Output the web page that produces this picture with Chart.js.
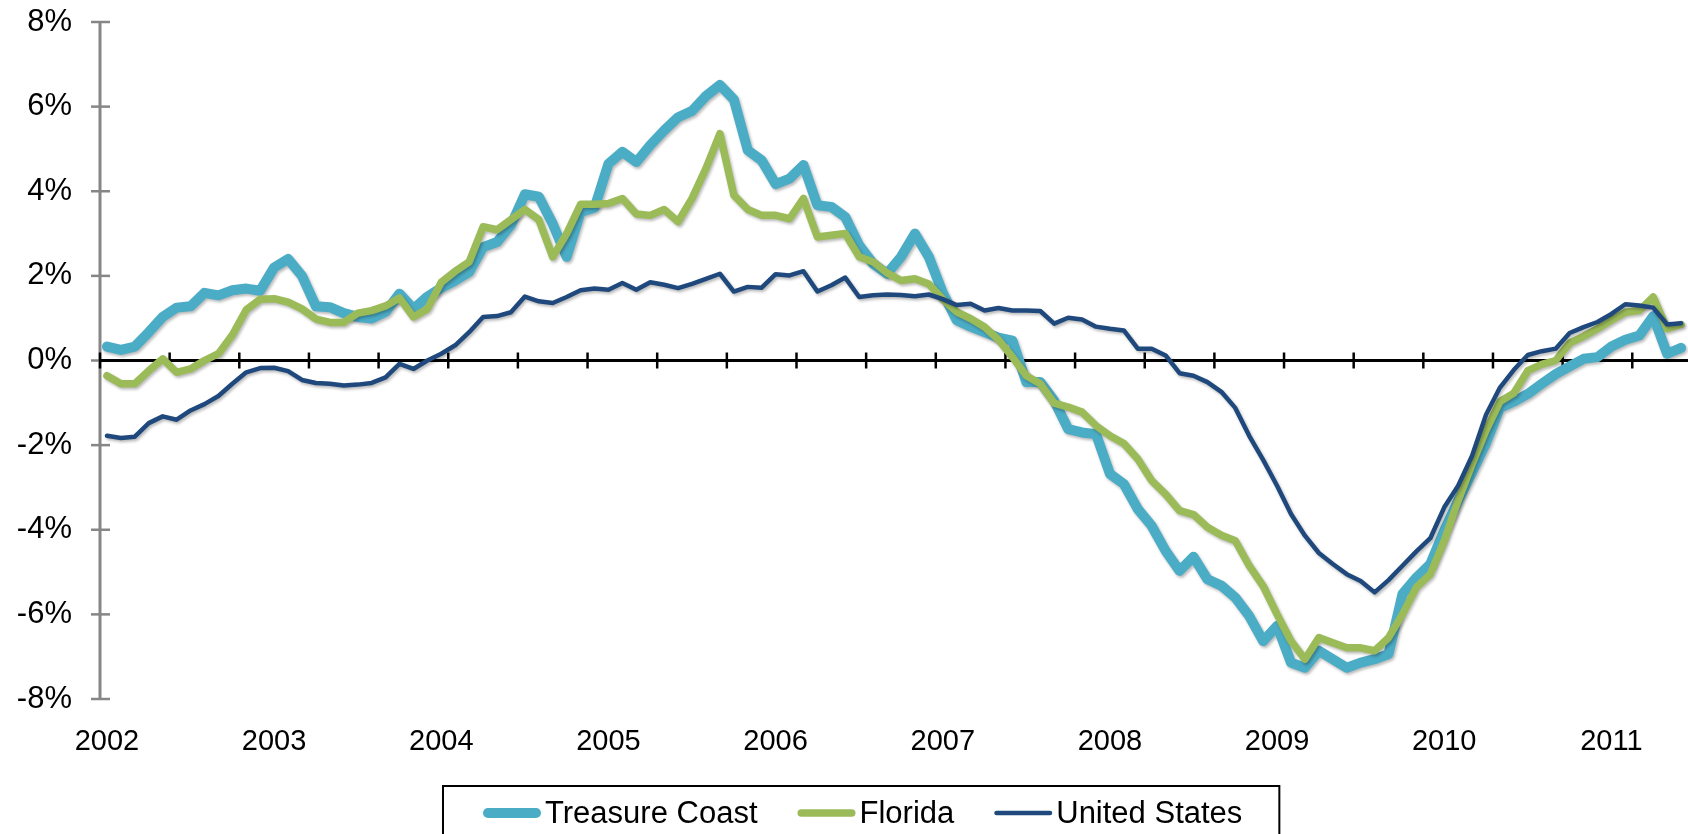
<!DOCTYPE html>
<html>
<head>
<meta charset="utf-8">
<script src="https://cdn.jsdelivr.net/npm/chart.js@4.4.1/dist/chart.umd.min.js"></script>
<style>
  html, body { margin: 0; padding: 0; background: #fff; }
  #wrap { width: 1688px; height: 834px; }
</style>
</head>
<body>
<div id="wrap"><canvas id="priceChart" width="1688" height="834"></canvas></div>
<script>
// year-over-year change, monthly, Jan 2002 - Jun 2011 (percent)
var treasureCoast = [
  0.33, 0.25, 0.33, 0.67, 1.03, 1.25, 1.28, 1.60, 1.54, 1.66, 1.70, 1.65,
  2.20, 2.40, 2.00, 1.28, 1.26, 1.12, 1.03, 0.99, 1.15, 1.58, 1.22, 1.51,
  1.72, 1.89, 2.09, 2.68, 2.80, 3.20, 3.93, 3.87, 3.23, 2.45, 3.51, 3.61,
  4.65, 4.93, 4.69, 5.09, 5.44, 5.75, 5.90, 6.25, 6.51, 6.17, 4.97, 4.73,
  4.17, 4.30, 4.62, 3.67, 3.63, 3.39, 2.72, 2.29, 2.05, 2.45, 3.00, 2.45,
  1.60, 0.95, 0.80, 0.67, 0.54, 0.47, -0.51, -0.51, -0.95, -1.62, -1.70, -1.74,
  -2.68, -2.92, -3.51, -3.91, -4.50, -4.97, -4.64, -5.17, -5.32, -5.60, -6.04, -6.63,
  -6.27, -7.14, -7.26, -6.86, -7.06, -7.26, -7.14, -7.06, -6.94, -5.52, -5.13, -4.81,
  -4.02, -3.31, -2.64, -1.95, -1.12, -0.97, -0.79, -0.55, -0.32, -0.14, 0.04, 0.08,
  0.33, 0.49, 0.59, 1.05, 0.16, 0.30
];
var florida = [
  -0.36, -0.55, -0.55, -0.24, 0.04, -0.28, -0.20, 0.00, 0.16, 0.60, 1.20, 1.45,
  1.46, 1.38, 1.22, 0.98, 0.90, 0.90, 1.12, 1.18, 1.29, 1.48, 1.03, 1.22,
  1.85, 2.11, 2.33, 3.16, 3.09, 3.33, 3.57, 3.33, 2.45, 3.00, 3.69, 3.69,
  3.71, 3.83, 3.46, 3.43, 3.57, 3.28, 3.83, 4.54, 5.36, 3.91, 3.57, 3.43,
  3.43, 3.35, 3.83, 2.92, 2.96, 3.00, 2.45, 2.33, 2.07, 1.89, 1.93, 1.81,
  1.45, 1.15, 0.99, 0.79, 0.49, 0.08, -0.36, -0.55, -1.01, -1.10, -1.22, -1.54,
  -1.78, -1.96, -2.33, -2.84, -3.16, -3.55, -3.64, -3.94, -4.13, -4.26, -4.85, -5.33,
  -6.00, -6.63, -7.06, -6.55, -6.67, -6.79, -6.79, -6.86, -6.55, -6.00, -5.36, -5.05,
  -4.26, -3.31, -2.45, -1.65, -0.97, -0.77, -0.24, -0.09, 0.00, 0.41, 0.57, 0.75,
  0.95, 1.14, 1.18, 1.50, 0.75, 0.85
];
var unitedStates = [
  -1.78, -1.83, -1.80, -1.48, -1.32, -1.40, -1.18, -1.03, -0.84, -0.55, -0.28, -0.18,
  -0.17, -0.25, -0.46, -0.53, -0.55, -0.59, -0.57, -0.53, -0.40, -0.08, -0.20, 0.00,
  0.16, 0.36, 0.67, 1.03, 1.05, 1.14, 1.51, 1.40, 1.36, 1.50, 1.66, 1.70,
  1.67, 1.83, 1.67, 1.85, 1.79, 1.71, 1.81, 1.93, 2.05, 1.63, 1.74, 1.72,
  2.04, 2.01, 2.11, 1.63, 1.78, 1.96, 1.50, 1.54, 1.56, 1.55, 1.52, 1.56,
  1.45, 1.31, 1.34, 1.18, 1.24, 1.18, 1.18, 1.17, 0.87, 1.01, 0.97, 0.80,
  0.75, 0.71, 0.28, 0.28, 0.12, -0.30, -0.36, -0.51, -0.74, -1.12, -1.78, -2.35,
  -2.96, -3.63, -4.14, -4.55, -4.81, -5.05, -5.21, -5.48, -5.19, -4.85, -4.51, -4.20,
  -3.47, -2.96, -2.25, -1.28, -0.64, -0.22, 0.13, 0.22, 0.28, 0.65, 0.79, 0.91,
  1.10, 1.33, 1.30, 1.25, 0.85, 0.88
];

var firstYear = 2002;
var months = [];
for (var i = 0; i < treasureCoast.length; i++) {
    var yr = firstYear + Math.floor(i / 12);
    var mo = (i % 12) + 1;
    months.push(yr + '-' + (mo < 10 ? '0' : '') + mo);
}
var yTicks = [-8, -6, -4, -2, 0, 2, 4, 6, 8];
var tickEvery = 5;    // small marks on the zero line
var labelEvery = 12;  // year labels

Chart.defaults.font.family = '"Liberation Sans", Arial, sans-serif';

var axisMarks = {
    id: 'axisMarks',
    beforeDatasetsDraw: function (chart) {
        var c = chart.ctx, xs = chart.scales.x, ys = chart.scales.y, area = chart.chartArea;
        c.save();
        // grey value axis with ticks crossing it
        c.strokeStyle = '#868686';
        c.lineWidth = 3;
        c.beginPath();
        c.moveTo(area.left, ys.getPixelForValue(8));
        c.lineTo(area.left, ys.getPixelForValue(-8));
        c.stroke();
        c.lineWidth = 2.5;
        yTicks.forEach(function (v) {
            var py = ys.getPixelForValue(v);
            c.beginPath();
            c.moveTo(area.left - 9, py);
            c.lineTo(area.left + 10, py);
            c.stroke();
        });
        // black category axis at 0%
        var y0 = ys.getPixelForValue(0);
        c.strokeStyle = '#000';
        c.lineWidth = 3;
        c.beginPath();
        c.moveTo(area.left, y0);
        c.lineTo(area.right, y0);
        c.stroke();
        c.lineWidth = 2.5;
        var step = xs.getPixelForValue(1) - xs.getPixelForValue(0);
        for (var j = 0; j <= months.length; j += tickEvery) {
            var px = xs.getPixelForValue(j) - step / 2;
            c.beginPath();
            c.moveTo(px, y0 - 8);
            c.lineTo(px, y0 + 8);
            c.stroke();
        }
        c.restore();
    }
};

var lineShadow = {
    id: 'lineShadow',
    beforeDatasetDraw: function (chart) {
        var c = chart.ctx;
        c.save();
        c.shadowColor = 'rgba(0, 0, 0, 0.28)';
        c.shadowBlur = 3;
        c.shadowOffsetX = 1.5;
        c.shadowOffsetY = 2;
    },
    afterDatasetDraw: function (chart) {
        chart.ctx.restore();
    }
};

var legendBox = {
    id: 'legendBox',
    afterDraw: function (chart) {
        var c = chart.ctx;
        var boxLeft = 443, boxTop = 786, cy = 813;
        var x = boxLeft + 40;
        c.save();
        c.font = '31px "Liberation Sans", Arial, sans-serif';
        c.textBaseline = 'middle';
        chart.data.datasets.forEach(function (ds) {
            var r = ds.borderWidth / 2;
            c.strokeStyle = ds.borderColor;
            c.lineWidth = ds.borderWidth;
            c.lineCap = 'round';
            c.beginPath();
            c.moveTo(x + r, cy);
            c.lineTo(x + 58 - r, cy);
            c.stroke();
            x += 62;
            c.fillStyle = '#000';
            c.fillText(ds.label, x, cy + 1);
            x += c.measureText(ds.label).width + 40;
        });
        var boxRight = x - 40 + 37;
        c.strokeStyle = '#000';
        c.lineWidth = 2;
        c.strokeRect(boxLeft, boxTop, boxRight - boxLeft, 834 - boxTop + 10);
        c.restore();
    }
};

var ctx = document.getElementById('priceChart').getContext('2d');
var priceChart = new Chart(ctx, {
    type: 'line',
    data: {
        labels: months,
        datasets: [{
            label: 'Treasure Coast',
            data: treasureCoast,
            borderColor: '#4BACC6',
            borderWidth: 10,
            order: 3
        }, {
            label: 'Florida',
            data: florida,
            borderColor: '#9BBB59',
            borderWidth: 7.5,
            order: 2
        }, {
            label: 'United States',
            data: unitedStates,
            borderColor: '#1F497D',
            borderWidth: 4.5,
            order: 1
        }]
    },
    options: {
        responsive: false,
        animation: false,
        devicePixelRatio: 1,
        layout: { padding: { top: 22, right: 0, bottom: 0, left: 0 } },
        elements: {
            point: { radius: 0 },
            line: { tension: 0, borderJoinStyle: 'round', borderCapStyle: 'round' }
        },
        plugins: {
            legend: { display: false },
            tooltip: { enabled: false }
        },
        scales: {
            x: {
                type: 'category',
                offset: true,
                grid: { display: false, drawTicks: false },
                border: { display: false },
                ticks: {
                    autoSkip: false,
                    maxRotation: 0,
                    minRotation: 0,
                    padding: 0,
                    color: '#000',
                    font: { size: 29, lineHeight: '86px' },
                    callback: function (v, i) {
                        return i % labelEvery === 0 ? months[i].slice(0, 4) : '';
                    }
                },
                afterFit: function (s) { s.height = 135; }
            },
            y: {
                min: -8,
                max: 8,
                afterBuildTicks: function (s) {
                    s.ticks = yTicks.map(function (v) { return { value: v }; });
                },
                ticks: {
                    padding: 0,
                    color: '#000',
                    font: { size: 31 },
                    callback: function (v) { return v + '%'; }
                },
                // invisible tick marks only push the labels away from the axis
                grid: {
                    display: true,
                    drawOnChartArea: false,
                    drawTicks: true,
                    tickLength: 28,
                    color: 'rgba(0, 0, 0, 0)'
                },
                border: { display: false },
                afterFit: function (s) { s.width = 100; }
            }
        }
    },
    plugins: [axisMarks, lineShadow, legendBox]
});
</script>
</body>
</html>
